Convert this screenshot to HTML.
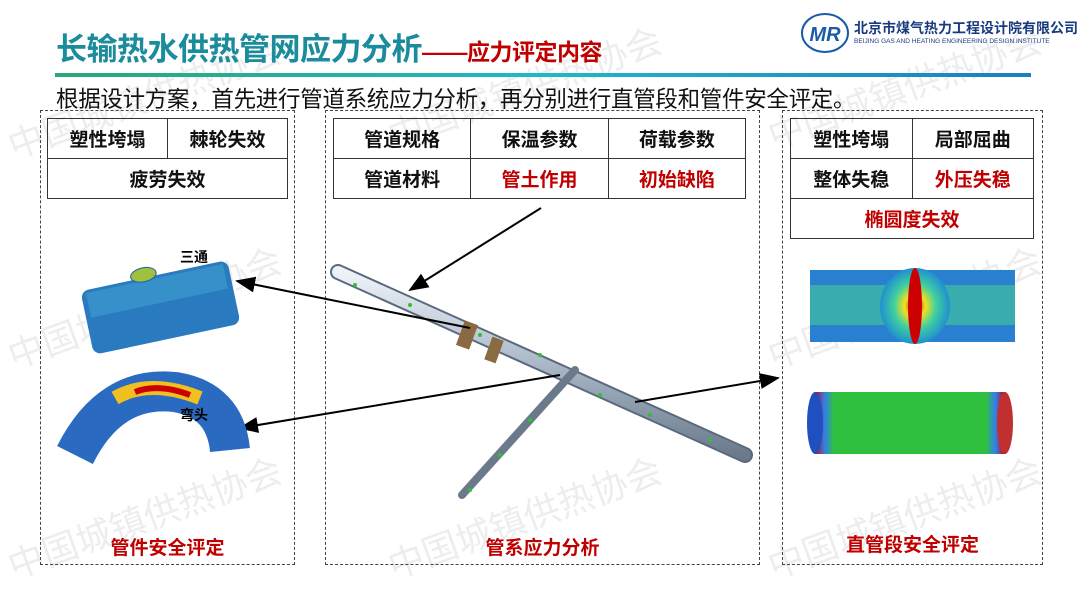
<!DOCTYPE html>
<html><head><meta charset="utf-8"><style>
body{margin:0;width:1080px;height:608px;background:#fff;position:relative;overflow:hidden;font-family:"Liberation Sans","Noto Sans CJK SC",sans-serif}
.a{position:absolute}
.title{left:56px;top:24px;font-size:31px;font-weight:bold;color:#1a8c9c;letter-spacing:-0.5px}
.title span{color:#c00000;font-size:23px}
.line{left:55px;top:73px;width:976px;height:4px;background:linear-gradient(90deg,#2aa874,#1fb8c8,#1a7fc0)}
.sub{left:56px;top:82px;font-size:22.5px;color:#111;letter-spacing:-0.3px}
.box{border:1.5px dashed #444;box-sizing:border-box}
table{position:absolute;border-collapse:collapse;font-size:19px;font-weight:bold;color:#111}
td{border:1.5px solid #333;text-align:center;height:39px;padding:0}
.r{color:#c00000}
.lab{font-size:19px;font-weight:bold;color:#c00000;text-align:center}
.wm{color:rgba(0,0,0,0.07);font-size:36px;transform:rotate(-20deg);white-space:nowrap}
</style></head><body>
<div class="a wm" style="left:0;top:70px">中国城镇供热协会</div>
<div class="a wm" style="left:380px;top:60px">中国城镇供热协会</div>
<div class="a wm" style="left:760px;top:60px">中国城镇供热协会</div>
<div class="a wm" style="left:0;top:280px">中国城镇供热协会</div>
<div class="a wm" style="left:760px;top:280px">中国城镇供热协会</div>
<div class="a wm" style="left:0;top:490px">中国城镇供热协会</div>
<div class="a wm" style="left:380px;top:490px">中国城镇供热协会</div>
<div class="a wm" style="left:760px;top:490px">中国城镇供热协会</div>

<div class="a title">长输热水供热管网应力分析<span>——应力评定内容</span></div>
<svg class="a" style="left:800px;top:12px" width="50" height="42"><ellipse cx="25" cy="21" rx="23" ry="19" fill="none" stroke="#1a5aa8" stroke-width="2"/><text x="25" y="29" text-anchor="middle" font-size="20" font-style="italic" font-weight="bold" fill="#1a5aa8" font-family="Liberation Sans">MR</text></svg>
<div class="a" style="left:854px;top:18px;font-size:14px;color:#1a3a80;font-weight:bold">北京市煤气热力工程设计院有限公司</div>
<div class="a" style="left:854px;top:38px;font-size:6.5px;color:#1a3a80">BEIJING GAS AND HEATING ENGINEERING DESIGN INSTITUTE</div>
<div class="a line"></div>
<div class="a sub">根据设计方案，首先进行管道系统应力分析，再分别进行直管段和管件安全评定。</div>

<div class="a box" style="left:40px;top:110px;width:255px;height:455px"></div>
<div class="a box" style="left:325px;top:110px;width:435px;height:455px"></div>
<div class="a box" style="left:782px;top:110px;width:261px;height:455px"></div>

<table style="left:47px;top:118px;width:241px"><tr><td>塑性垮塌</td><td>棘轮失效</td></tr><tr><td colspan="2">疲劳失效</td></tr></table>
<table style="left:333px;top:118px;width:413px"><tr><td>管道规格</td><td>保温参数</td><td>荷载参数</td></tr><tr><td>管道材料</td><td class="r">管土作用</td><td class="r">初始缺陷</td></tr></table>
<table style="left:790px;top:118px;width:244px"><tr><td>塑性垮塌</td><td>局部屈曲</td></tr><tr><td>整体失稳</td><td class="r">外压失稳</td></tr><tr><td colspan="2" class="r">椭圆度失效</td></tr></table>

<svg class="a" style="left:0;top:0" width="1080" height="608">
<defs><marker id="ar" markerWidth="10" markerHeight="8" refX="9" refY="4" orient="auto"><path d="M0,0L10,4L0,8z" fill="#000"/></marker>
<linearGradient id="p" x1="0" y1="0" x2="0" y2="1"><stop offset="0" stop-color="#eef3f8"/><stop offset=".5" stop-color="#aab8c8"/><stop offset="1" stop-color="#6a7a8c"/></linearGradient>
<linearGradient id="sp" x1="0" x2="1"><stop offset="0" stop-color="#c00"/><stop offset=".05" stop-color="#3080f0"/><stop offset=".1" stop-color="#30c040"/><stop offset=".9" stop-color="#30c040"/><stop offset=".95" stop-color="#3080f0"/><stop offset="1" stop-color="#c00"/></linearGradient>
<radialGradient id="bk" cx=".5" cy=".5" r=".5"><stop offset="0" stop-color="#c00"/><stop offset=".3" stop-color="#f0e020"/><stop offset=".6" stop-color="#40d0a0"/><stop offset="1" stop-color="#2090d0"/></radialGradient></defs>
<path d="M338,272 L745,455" stroke="#5a6a7c" stroke-width="16" stroke-linecap="round"/>
<path d="M338,272 L745,455" stroke="url(#p)" stroke-width="12" stroke-linecap="round"/>
<path d="M575,370 L462,495" stroke="#6a7a8a" stroke-width="8" stroke-linecap="round"/>
<rect x="460" y="322" width="14" height="26" fill="#8a6a40" transform="rotate(20 467 335)"/>
<rect x="488" y="338" width="12" height="24" fill="#8a6a40" transform="rotate(20 494 350)"/>
<g fill="#30c030"><circle cx="355" cy="285" r="2"/><circle cx="410" cy="305" r="2"/><circle cx="480" cy="335" r="2"/><circle cx="540" cy="355" r="2"/><circle cx="600" cy="395" r="2"/><circle cx="650" cy="415" r="2"/><circle cx="710" cy="440" r="2"/><circle cx="530" cy="420" r="2"/><circle cx="500" cy="455" r="2"/><circle cx="470" cy="490" r="2"/></g>
<line x1="541" y1="208" x2="410" y2="290" stroke="#000" stroke-width="2" marker-end="url(#ar)"/>
<line x1="470" y1="328" x2="237" y2="281" stroke="#000" stroke-width="2" marker-end="url(#ar)"/>
<line x1="560" y1="375" x2="240" y2="428" stroke="#000" stroke-width="2" marker-end="url(#ar)"/>
<line x1="635" y1="402" x2="778" y2="378" stroke="#000" stroke-width="2" marker-end="url(#ar)"/>
<g transform="rotate(-12 160 305)"><rect x="85" y="275" width="150" height="65" rx="8" fill="#2a7ac0"/><rect x="90" y="278" width="140" height="25" fill="#40a0d0" opacity=".6"/><ellipse cx="150" cy="272" rx="13" ry="7" fill="#a0c040" stroke="#2060a0"/></g>
<path d="M75,455 Q110,385 175,392 Q225,400 230,450" stroke="#2a6ac0" stroke-width="40" fill="none"/>
<path d="M115,398 Q150,378 200,398" stroke="#f0c020" stroke-width="14" fill="none"/>
<path d="M135,392 Q158,383 190,395" stroke="#c00" stroke-width="6" fill="none"/>
<rect x="810" y="270" width="205" height="72" fill="#2a80d0"/>
<rect x="810" y="285" width="205" height="40" fill="#40c0a0" opacity=".7"/>
<ellipse cx="915" cy="306" rx="35" ry="38" fill="url(#bk)"/>
<ellipse cx="915" cy="306" rx="7" ry="38" fill="#c00"/>
<rect x="815" y="392" width="190" height="62" fill="url(#sp)"/>
<ellipse cx="815" cy="423" rx="8" ry="31" fill="#2050c0"/>
<ellipse cx="1005" cy="423" rx="8" ry="31" fill="#c03030"/>
</svg>
<div class="a" style="left:180px;top:247px;font-size:14px;font-weight:bold">三通</div>
<div class="a" style="left:180px;top:405px;font-size:14px;font-weight:bold">弯头</div>
<div class="a lab" style="left:40px;top:533px;width:255px">管件安全评定</div>
<div class="a lab" style="left:325px;top:533px;width:435px">管系应力分析</div>
<div class="a lab" style="left:782px;top:530px;width:261px">直管段安全评定</div>
</body></html>
